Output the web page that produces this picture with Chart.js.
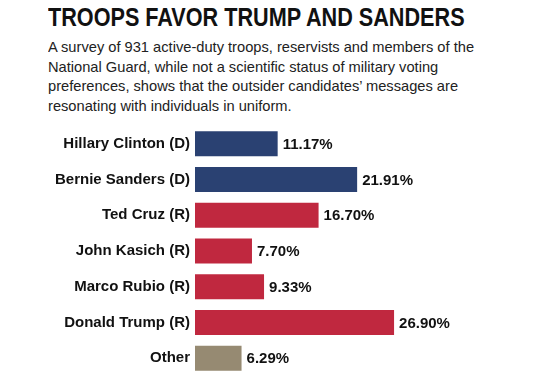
<!DOCTYPE html>
<html>
<head>
<meta charset="utf-8">
<script src="https://cdn.jsdelivr.net/npm/chart.js@4.4.0/dist/chart.umd.min.js"></script>
<style>
  body { margin: 0; background: #fff; width: 539px; height: 376px; overflow: hidden; position: relative; }
  #title {
    position: absolute; left: 48px; top: 3px; transform-origin: left top;
    font-family: 'Liberation Sans', Arial, sans-serif;
    font-weight: bold; font-size: 25px; color: #111; white-space: nowrap;
  }
  #subtitle {
    position: absolute; left: 48px; top: 37px; transform-origin: left top;
    font-family: 'Liberation Sans', Arial, sans-serif;
    font-size: 15px; line-height: 19.5px; color: #222; white-space: nowrap;
  }
  #wrap { position: absolute; left: 0; top: 120px; width: 539px; height: 256px; }
</style>
</head>
<body>
<div id="title">TROOPS FAVOR TRUMP AND SANDERS</div>
<div id="subtitle">A survey of 931 active-duty troops, reservists and members of the<br>National Guard, while not a scientific status of military voting<br>preferences, shows that the outsider candidates’ messages are<br>resonating with individuals in uniform.</div>
<div id="wrap"><canvas id="chart"></canvas></div>
<script>
const candidates = [
    'Hillary Clinton (D)', 'Bernie Sanders (D)', 'Ted Cruz (R)',
    'John Kasich (R)', 'Marco Rubio (R)', 'Donald Trump (R)', 'Other'
];
const shares = [11.17, 21.91, 16.70, 7.70, 9.33, 26.90, 6.29];
const partyColors = ['#2a4172', '#2a4172', '#c0283f', '#c0283f', '#c0283f', '#c0283f', '#968a72'];

// squeeze the headline and blurb to the reference widths (no condensed font installed)
const fitWidth = (id, target) => {
    const el = document.getElementById(id);
    el.style.transform = `scaleX(${target / el.offsetWidth})`;
};
fitWidth('title', 417);
fitWidth('subtitle', 426);

const labelFont = { family: "'Liberation Sans', Arial, sans-serif", size: 15, weight: 'bold' };

const valueLabels = {
    id: 'valueLabels',
    afterDatasetsDraw(chart) {
        const { ctx } = chart;
        const meta = chart.getDatasetMeta(0);
        ctx.save();
        ctx.font = `bold 15px ${labelFont.family}`;
        ctx.fillStyle = '#111';
        ctx.textBaseline = 'middle';
        ctx.textAlign = 'left';
        meta.data.forEach((bar, i) => {
            ctx.fillText(shares[i].toFixed(2) + '%', bar.x + 5, bar.y + 1);
        });
        ctx.restore();
    }
};

new Chart(document.getElementById('chart'), {
    type: 'bar',
    data: {
        labels: candidates,
        datasets: [{
            data: shares,
            backgroundColor: partyColors,
            borderWidth: 0,
            barPercentage: 0.7,
            categoryPercentage: 1
        }]
    },
    options: {
        indexAxis: 'y',
        responsive: true,
        maintainAspectRatio: false,
        animation: false,
        layout: { padding: { top: 6, right: 48, bottom: 0, left: 0 } },
        plugins: {
            legend: { display: false },
            tooltip: { enabled: false }
        },
        scales: {
            x: { display: false, min: 0, max: 40 },
            y: {
                grid: { display: false, drawTicks: false },
                border: { display: false },
                ticks: { color: '#111', font: labelFont, padding: 5 },
                afterFit(scale) {
                    scale.width = 195;
                    scale.paddingTop = 0;
                    scale.paddingBottom = 0;
                }
            }
        }
    },
    plugins: [valueLabels]
});
</script>
</body>
</html>
